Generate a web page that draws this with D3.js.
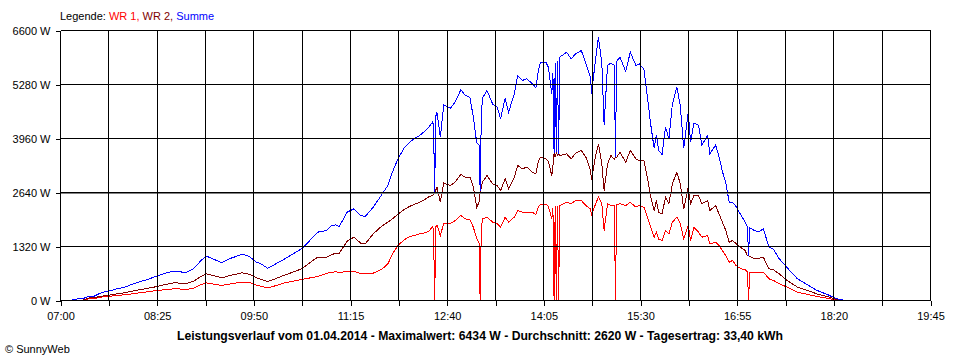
<!DOCTYPE html>
<html>
<head>
<meta charset="utf-8">
<script src="https://cdn.jsdelivr.net/npm/d3@7"></script>
<style>
  body { margin: 0; background: #fff; }
  svg { display: block; font-family: "Liberation Sans", Arial, sans-serif; }
</style>
</head>
<body>
<div id="chart"></div>
<script>
// readings (time of day, watts) taken off the SunnyWeb chart of 01.04.2014
const times = [
  "07:10","07:15","07:20","07:25","07:30","07:35","07:40","07:45","07:50","07:56",
  "08:02","08:09","08:17","08:25","08:32","08:40","08:45","08:50","08:57","09:03",
  "09:08","09:14","09:22","09:30","09:40","09:46","09:52","09:56","10:02","10:09",
  "10:16","10:24","10:32","10:39","10:46","10:54","10:58","11:02","11:05","11:12",
  "11:18","11:24","11:28","11:35","11:43","11:48","11:52","11:57","12:02","12:07",
  "12:11","12:16","12:21","12:24","12:27","12:28","12:29","12:30","12:31","12:34",
  "12:37","12:41","12:43","12:47","12:52","12:56","13:00","13:03","13:06","13:08",
  "13:09","13:10","13:11","13:15","13:20","13:24","13:27","13:31","13:34","13:39",
  "13:42","13:46","13:50","13:55","13:58","14:00","14:02","14:07","14:09","14:12",
  "14:13","14:14","14:15","14:16","14:17","14:18","14:19","14:25","14:29","14:33",
  "14:38","14:42","14:46","14:47","14:50","14:53","14:56","14:58","15:01","15:04",
  "15:07","15:08","15:09","15:12","15:17","15:21","15:26","15:29","15:33","15:36",
  "15:39","15:42","15:44","15:46","15:49","15:52","15:55","15:58","16:02","16:05",
  "16:08","16:12","16:14","16:17","16:21","16:24","16:29","16:31","16:36","16:39",
  "16:42","16:45","16:48","16:51","16:54","16:58","17:02","17:04","17:05","17:06",
  "17:10","17:14","17:18","17:23","17:27","17:32","17:39","17:48","17:57","18:05",
  "18:14","18:21","18:25","18:29"
];

const wr1 = [
  0,0,10,40,50,80,100,110,125,138,
  160,188,215,244,265,285,282,269,300,380,
  432,405,367,410,448,440,380,350,310,360,
  423,470,513,550,587,660,690,700,690,705,
  709,660,652,668,774,900,1150,1350,1480,1560,
  1589,1630,1660,1700,1792,1750,0,1800,1850,1589,
  1890,1890,1890,1950,2078,1997,1972,1792,1508,1400,
  0,1700,1997,2037,1915,1874,1792,2037,1915,2037,
  2200,2159,2159,2159,2100,2281,2347,2347,2300,2000,
  2250,0,2300,0,2300,0,2322,2403,2363,2444,
  2444,2322,2240,2100,2322,2526,2363,1711,2363,2322,
  2322,0,2350,2363,2322,2403,2281,2322,2281,2037,
  1792,1548,1670,1500,1467,1711,1630,1915,2037,1874,
  1508,1833,1467,1792,1670,1548,1589,1385,1426,1344,
  1222,1100,937,978,856,780,750,700,0,693,
  693,693,693,530,489,407,326,204,147,98,
  57,16,0,0
];

const wr2 = [
  0,0,10,60,70,100,120,140,165,188,
  225,260,300,342,390,432,425,407,470,580,
  652,610,554,620,677,640,560,520,464,530,
  611,690,774,920,1059,1060,1110,1160,1150,1450,
  1548,1400,1385,1630,1830,1915,2000,2118,2220,2300,
  2350,2403,2480,2540,2567,2600,2650,2700,2770,2403,
  2870,2830,2811,2900,3080,3014,3014,2770,2281,2400,
  2689,2750,2892,3056,2852,2811,2689,2974,2730,3014,
  3300,3219,3259,3137,3100,3381,3503,3463,3400,3050,
  3300,3600,3500,3620,3550,3585,3544,3585,3463,3600,
  3667,3503,3178,2950,3463,3830,3341,2689,3341,3544,
  3450,3503,3500,3626,3381,3667,3463,3422,3422,3014,
  2526,2200,2444,2150,2118,2526,2363,2852,3137,2852,
  2240,2770,2363,2567,2567,2363,2444,2200,2322,2118,
  1915,1711,1426,1467,1390,1300,1222,1100,1100,1080,
  1018,1030,1059,774,750,652,489,326,244,163,
  98,41,5,0
];

const summe = [
  20,40,50,100,110,180,220,250,290,320,
  385,450,520,600,665,720,705,675,775,960,
  1090,1015,925,1035,1130,1080,940,900,790,890,
  1000,1130,1263,1460,1670,1711,1830,1850,1800,2159,
  2240,2078,2053,2281,2608,2820,3150,3480,3720,3870,
  3950,4040,4150,4237,4359,4300,2650,4500,4603,3992,
  4780,4726,4700,4848,5150,5011,4970,4480,3850,3800,
  2689,4450,4950,5133,4800,4726,4441,4950,4600,5052,
  5500,5378,5418,5296,5200,5581,5826,5810,5704,5052,
  5550,3600,5800,3620,5850,3585,5948,6070,5907,6030,
  6111,5785,5459,5052,5785,6434,5800,4300,5750,5800,
  5750,3503,5850,5948,5600,6070,5744,5780,5650,5000,
  4300,3720,4050,3667,3570,4237,3950,4800,5220,4760,
  3720,4620,3870,4340,4280,3800,4033,3585,3800,3520,
  3160,2870,2403,2400,2300,2100,1920,1800,1100,1780,
  1711,1680,1752,1304,1250,1020,800,530,380,250,
  150,60,20,10
];

const yTicks = [0, 1320, 2640, 3960, 5280, 6600];
const xTickLabels = ["07:00","08:25","09:50","11:15","12:40","14:05","15:30","16:55","18:20","19:45"];
const average = 2620;
const legendLabels = ["WR 1, ", "WR 2, ", "Summe"];
const title = "Leistungsverlauf vom 01.04.2014 - Maximalwert: 6434 W - Durchschnitt: 2620 W - Tagesertrag: 33,40 kWh";

const colors = ["#ff0000", "#800000", "#0000ff"];

const width = 960, height = 360;
const plot = { left: 60, right: 930, top: 30, bottom: 300 };
const parse = d3.timeParse("%H:%M");

const svg = d3.select("#chart").append("svg")
  .attr("width", width).attr("height", height)
  .attr("viewBox", `0 0 ${width} ${height}`);

svg.append("rect").attr("width", width).attr("height", height).attr("fill", "#fff");

const x = d3.scaleTime()
  .domain([parse(xTickLabels[0]), parse(xTickLabels[xTickLabels.length - 1])])
  .range([plot.left + 0.5, plot.right + 0.5]);
const y = d3.scaleLinear().domain([0, 6600]).range([plot.bottom + 0.5, plot.top + 0.5]);

// major ticks carry labels, one unlabeled tick between each pair
const major = xTickLabels.map(parse);
const allTicks = [];
major.forEach((d, i) => {
  allTicks.push(d);
  if (i < major.length - 1) allTicks.push(new Date((+d + +major[i + 1]) / 2));
});

const rows = times.map((t, i) => ({ t: parse(t), wr1: wr1[i], wr2: wr2[i], summe: summe[i] }));

// series
["wr1", "wr2", "summe"].forEach((key, i) => {
  svg.append("path")
    .datum(rows)
    .attr("fill", "none")
    .attr("stroke", colors[i])
    .attr("stroke-width", 1)
    .attr("shape-rendering", "crispEdges")
    .attr("d", d3.line().x((d) => x(d.t)).y((d) => y(d[key])));
});

// average line
svg.append("line")
  .attr("x1", plot.left).attr("x2", plot.right)
  .attr("y1", Math.round(y(average)) + 0.5).attr("y2", Math.round(y(average)) + 0.5)
  .attr("stroke", "#808080")
  .attr("shape-rendering", "crispEdges");

// grid
const grid = svg.append("g").attr("stroke", "#000").attr("shape-rendering", "crispEdges");
grid.selectAll(".v").data(allTicks).join("line")
  .attr("x1", (d) => x(d)).attr("x2", (d) => x(d))
  .attr("y1", plot.top + 0.5).attr("y2", plot.bottom + 0.5);
grid.selectAll(".h").data(yTicks).join("line")
  .attr("x1", plot.left + 0.5).attr("x2", plot.right + 0.5)
  .attr("y1", (d) => y(d)).attr("y2", (d) => y(d));

// axes
const yAxis = svg.append("g")
  .attr("transform", `translate(${plot.left + 0.5},0)`)
  .call(d3.axisLeft(y).tickValues(yTicks).tickSize(5).tickPadding(5).tickFormat((d) => `${d} W`));

const xAxis = svg.append("g")
  .attr("transform", `translate(0,${plot.bottom + 0.5})`)
  .call(d3.axisBottom(x).tickValues(allTicks).tickSize(5).tickPadding(7)
    .tickFormat((d, i) => (i % 2 === 0 ? d3.timeFormat("%H:%M")(d) : "")));

[yAxis, xAxis].forEach((g) => {
  g.select(".domain").remove();
  g.selectAll("line").attr("stroke", "#000").attr("shape-rendering", "crispEdges");
  g.selectAll("text").attr("fill", "#000").style("font-size", "11px")
    .style("font-family", '"Liberation Sans", Arial, sans-serif');
});

// legend
const legend = svg.append("text")
  .attr("x", plot.left).attr("y", 20)
  .style("font-size", "11px");
legend.append("tspan").attr("fill", "#000").text("Legende: ");
legendLabels.forEach((label, i) => {
  legend.append("tspan").attr("fill", colors[i]).text(label);
});

// title
svg.append("text")
  .attr("x", 480).attr("y", 340)
  .attr("text-anchor", "middle")
  .attr("textLength", 606)
  .attr("lengthAdjust", "spacingAndGlyphs")
  .style("font-size", "12px").style("font-weight", "bold")
  .text(title);

svg.append("text")
  .attr("x", 5).attr("y", 353)
  .style("font-size", "11px")
  .text("\u00a9 SunnyWeb");
</script>
</body>
</html>
